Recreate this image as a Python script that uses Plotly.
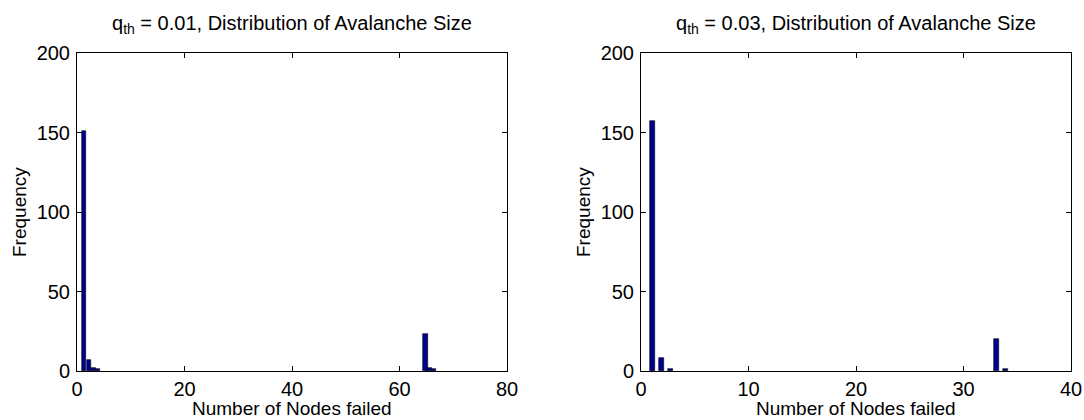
import plotly.graph_objects as go

# ---- data ----
left_x = [1.34, 2.2, 3.05, 3.9, 64.8, 65.6, 66.4]
left_y = [151, 7, 2, 1, 23, 2, 1]
right_x = [1.08, 1.9, 2.72, 33.06, 33.88]
right_y = [157, 8, 1, 20, 1]
left_xticks = [0, 20, 40, 60, 80]
right_xticks = [0, 10, 20, 30, 40]
y_ticks = [0, 50, 100, 150, 200]
titles = ["q<sub>th</sub> = 0.01, Distribution of Avalanche Size",
          "q<sub>th</sub> = 0.03, Distribution of Avalanche Size"]
xlabel = "Number of Nodes failed"
ylabel = "Frequency"

W, H = 1084, 420
FONT = "Liberation Sans, Arial, sans-serif"
BAR = "#00008F"
FS = 20

def fx(p):
    return p / W

def fy(p):
    return 1 - p / H

ax_left = (77, 507)
ax_right = (641, 1071)
ax_top, ax_bot = 53, 371

fig = go.Figure()
fig.add_trace(go.Bar(x=left_x, y=left_y, width=0.82, marker_color=BAR,
                     marker_line_color="black", marker_line_width=0.6,
                     xaxis="x", yaxis="y", showlegend=False))
fig.add_trace(go.Bar(x=right_x, y=right_y, width=0.5, marker_color=BAR,
                     marker_line_color="black", marker_line_width=0.6,
                     xaxis="x2", yaxis="y2", showlegend=False))

common = dict(showline=True, mirror="ticks", linecolor="black", linewidth=1,
              ticks="inside", ticklen=5, tickcolor="black", showgrid=False,
              zeroline=False, automargin=False,
              tickfont=dict(family=FONT, size=FS, color="black"))

fig.update_layout(
    width=W, height=H, margin=dict(l=0, r=0, t=0, b=0, pad=0, autoexpand=False),
    paper_bgcolor="white", plot_bgcolor="white", bargap=0,
    font=dict(family=FONT, color="black"),
    xaxis=dict(domain=[fx(ax_left[0]), fx(ax_left[1])], range=[0, 80],
               tickvals=left_xticks, anchor="y", ticklabelstandoff=0, **common),
    yaxis=dict(domain=[fy(ax_bot), fy(ax_top)], range=[0, 200],
               tickvals=y_ticks, anchor="x", ticklabelstandoff=2, **common),
    xaxis2=dict(domain=[fx(ax_right[0]), fx(ax_right[1])], range=[0, 40],
                tickvals=right_xticks, anchor="y2", ticklabelstandoff=0, **common),
    yaxis2=dict(domain=[fy(ax_bot), fy(ax_top)], range=[0, 200],
                tickvals=y_ticks, anchor="x2", ticklabelstandoff=2, **common),
)

anns = []
for (a, b), t in zip([ax_left, ax_right], titles):
    cx = fx((a + b) / 2)
    anns.append(dict(text=t, x=cx, y=fy(24), xref="paper", yref="paper",
                     xanchor="center", yanchor="middle", showarrow=False,
                     font=dict(family=FONT, size=FS, color="black")))
    anns.append(dict(text=xlabel, x=cx, y=fy(408), xref="paper", yref="paper",
                     xanchor="center", yanchor="middle", showarrow=False,
                     font=dict(family=FONT, size=FS - 1, color="black")))
    anns.append(dict(text=ylabel, x=fx(a - 58), y=fy((ax_top + ax_bot) / 2),
                     xref="paper", yref="paper", textangle=-90,
                     xanchor="center", yanchor="middle", showarrow=False,
                     font=dict(family=FONT, size=FS - 1, color="black")))
fig.update_layout(annotations=anns)

fig.write_html("out.html")
